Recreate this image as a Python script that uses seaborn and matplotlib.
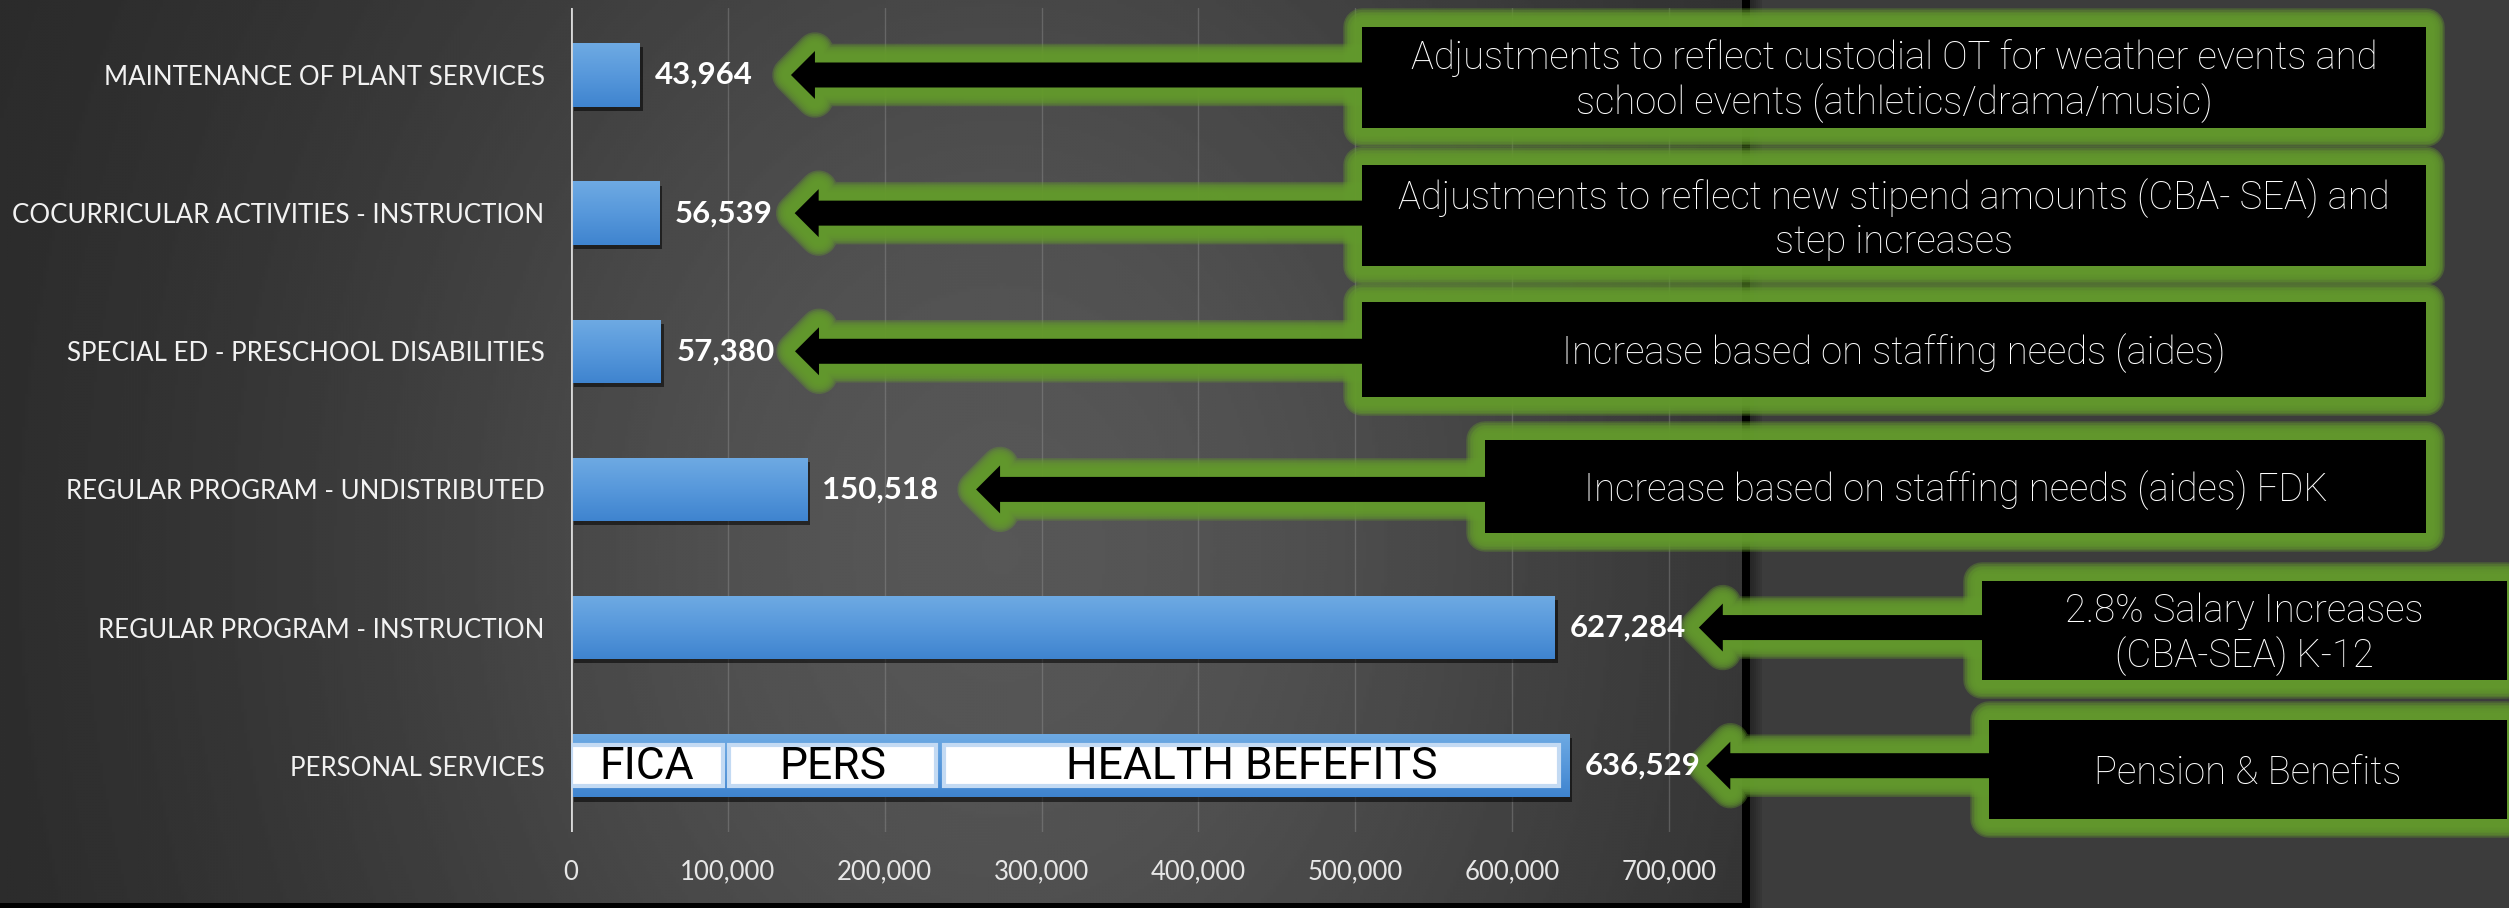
import numpy as np
import matplotlib
matplotlib.use('Agg')
import matplotlib.pyplot as plt
import matplotlib.patheffects as pe
import matplotlib.ticker as ticker
from matplotlib.patches import Rectangle, Polygon
import seaborn as sns

# 데이터
categories = ['MAINTENANCE OF PLANT SERVICES',
              'COCURRICULAR ACTIVITIES - INSTRUCTION',
              'SPECIAL ED - PRESCHOOL DISABILITIES',
              'REGULAR PROGRAM - UNDISTRIBUTED',
              'REGULAR PROGRAM - INSTRUCTION',
              'PERSONAL SERVICES']
values = [43964, 56539, 57380, 150518, 627284, 636529]
notes = ['Adjustments to reflect custodial OT for weather events and\nschool events (athletics/drama/music)',
         'Adjustments to reflect new stipend amounts (CBA- SEA) and\nstep increases',
         'Increase based on staffing needs (aides)',
         'Increase based on staffing needs (aides) FDK',
         '2.8% Salary Increases\n(CBA-SEA) K-12',
         'Pension & Benefits']
# pieces written inside the PERSONAL SERVICES bar
parts = ['FICA', 'PERS', 'HEALTH BEFEFITS']
part_start = [0, 101000, 238000]
part_end = [97000, 233000, 630000]
x_ticks = [0, 100000, 200000, 300000, 400000, 500000, 600000, 700000]

# callout layout (figure pixels, y from top)
boxes = [(1362, 27, 2426, 128), (1362, 165, 2426, 266), (1362, 302, 2426, 397),
         (1485, 440, 2426, 533), (1982, 581, 2507, 680), (1989, 720, 2507, 819)]
tip_gap = [151, 135, 134, 169, 144, 137]

W, H = 2509, 908
sns.set_style('dark')
plt.rcParams['font.family'] = ['Lato', 'DejaVu Sans']

fig = plt.figure(figsize=(W / 100, H / 100), dpi=100, facecolor='#3c3c3c')

# 배경 그라데이션 패널
back = fig.add_axes([0, 0, 1, 1], zorder=0)
back.set_xlim(0, W)
back.set_ylim(H, 0)
back.axis('off')
yy, xx = np.mgrid[0:903:3, 0:1742:3]
shade = 0.15 + 0.19 * np.exp(-((xx - 1000) / 720.0) ** 2 - ((yy - 550) / 900.0) ** 2)
back.imshow(shade, cmap='gray', vmin=0, vmax=1, extent=(0, 1742, 903, 0), aspect='auto', interpolation='bilinear')
back.add_patch(Rectangle((1742, 0), 8, 908, color='black', lw=0))
back.add_patch(Rectangle((0, 903), 1750, 5, color='black', lw=0))
for k in range(6):
    back.add_patch(Rectangle((1750 + 2 * k, 0), 2, 908, color='black', alpha=0.35 - 0.05 * k, lw=0))

# 메인 축
ax = fig.add_axes([571 / W, (H - 832) / H, 1170 / W, 824 / H], zorder=1)
ax.set_facecolor('none')
sns.barplot(x=values, y=categories, orient='h', color='#4f8fd6', saturation=1,
            width=0.46, ax=ax, zorder=3, linewidth=0, edgecolor='none')
ax.set_xlim(0, 746000)
ax.set_ylim(5.48, -0.485)

bars = list(ax.patches)
grad = np.linspace(0, 1, 64).reshape(-1, 1)
cmap = matplotlib.colors.LinearSegmentedColormap.from_list('bar', ['#6eaae3', '#5798db', '#3f84cf'])
for p in bars:
    p.set_path_effects([pe.SimplePatchShadow(offset=(2, -3), shadow_rgbFace='black', alpha=0.55), pe.Normal()])
    x0, y0 = p.get_x(), p.get_y()
    im = ax.imshow(grad, cmap=cmap, extent=(x0, x0 + p.get_width(), y0 + p.get_height(), y0),
                   aspect='auto', zorder=3.1, interpolation='bilinear')
    im.set_clip_path(p)
ax.set_xlim(0, 746000)
ax.set_ylim(5.48, -0.485)

# PERSONAL SERVICES 안쪽 흰 칸
ps = categories.index('PERSONAL SERVICES')
ax.barh([ps] * len(parts), np.subtract(part_end, part_start), left=part_start, height=0.30,
        color='white', edgecolor='#c3daf3', lw=3, zorder=5)
for name, s, e in zip(parts, part_start, part_end):
    ax.text((s + e) / 2, ps + 0.01, name, ha='center', va='center', fontsize=32, color='black',
            family=['Roboto', 'DejaVu Sans'], fontweight='normal', zorder=6)

ax.set_xticks(x_ticks)
ax.xaxis.set_major_formatter(ticker.StrMethodFormatter('{x:,.0f}'))
ax.grid(axis='x', color='#a0a0a0', alpha=0.35, lw=1)
ax.grid(axis='y', visible=False)
ax.axvline(0, color='#d8d8d8', lw=2, zorder=4)
sns.despine(ax=ax, left=True, bottom=True)
ax.tick_params(axis='x', length=0, pad=20, labelsize=18.5, labelcolor='#e6e6e6')
ax.tick_params(axis='y', length=0, pad=19, labelsize=18.6, labelcolor='#f2f2f2')
ax.set_xlabel('')
ax.set_ylabel('')

# 설명 상자와 화살표
top = fig.add_axes([0, 0, 1, 1], zorder=2)
top.set_xlim(0, W)
top.set_ylim(H, 0)
top.axis('off')
top.set_facecolor('none')

green = '#639a2c'
glow = [pe.Stroke(linewidth=w, foreground=green, alpha=0.36, joinstyle='round')
        for w in np.linspace(27, 11, 8)]

shapes = []
for i, (v, note, (bx0, by0, bx1, by1)) in enumerate(zip(values, notes, boxes)):
    px, py = ax.transData.transform((v, i))
    tx, cy = px + tip_gap[i], H - py
    hl, hh, sh = 24, 24, 12.5
    arrow = [(tx, cy), (tx + hl, cy - hh), (tx + hl, cy - sh), (bx0 + 2, cy - sh),
             (bx0 + 2, cy + sh), (tx + hl, cy + sh), (tx + hl, cy + hh)]
    rect = [(bx0, by0), (bx1, by0), (bx1, by1), (bx0, by1)]
    shapes += [arrow, rect]
    top.text((bx0 + bx1) / 2, (by0 + by1) / 2 + 4, note, ha='center', va='center', color='white',
             fontsize=27.5, family=['Roboto', 'DejaVu Sans'], fontweight='light', linespacing=1.2, zorder=5)

for sh_ in shapes:
    top.add_patch(Polygon(sh_, closed=True, facecolor=green, edgecolor=green, lw=0,
                          path_effects=glow + [pe.Normal()], zorder=2))
for sh_ in shapes:
    top.add_patch(Polygon(sh_, closed=True, facecolor='black', edgecolor='none', zorder=3))

# 막대 끝 금액
for i, v in enumerate(values):
    top.annotate(format(v, ','), xy=(v, i), xycoords=ax.transData, xytext=(11, 0),
                 textcoords='offset points', ha='left', va='center', fontsize=22.5,
                 fontweight='bold', color='white', zorder=6)

fig.savefig('out.png', dpi=100, facecolor=fig.get_facecolor())
